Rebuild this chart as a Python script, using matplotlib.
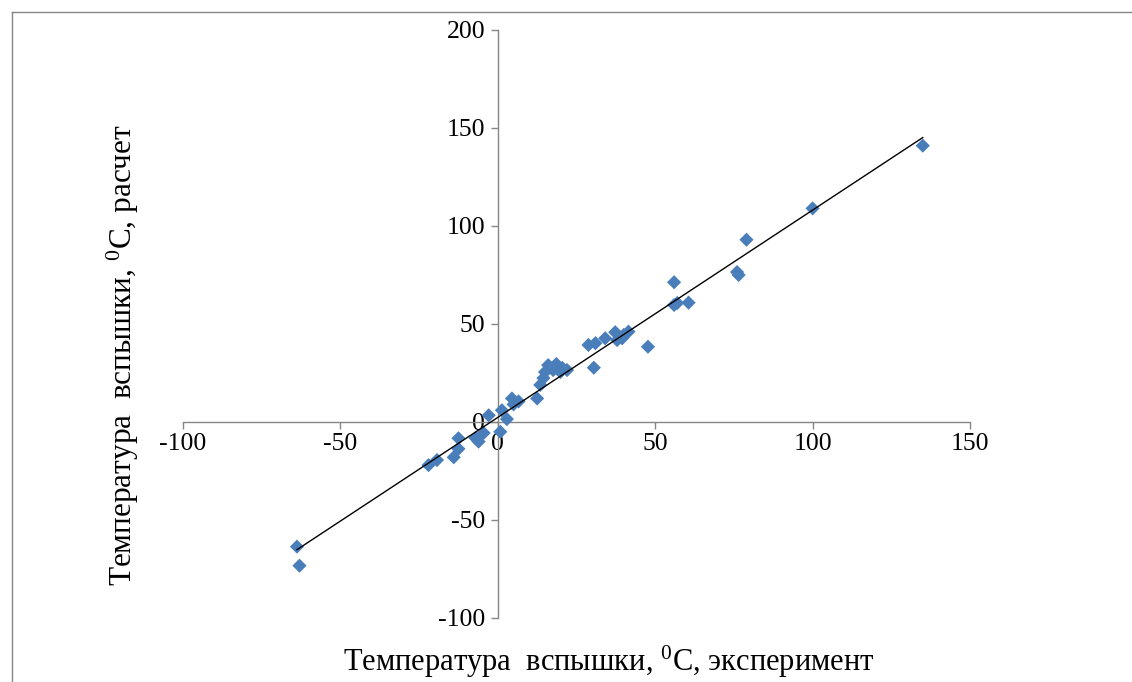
import numpy as np
import matplotlib
matplotlib.use("Agg")
import matplotlib.pyplot as plt
from matplotlib.lines import Line2D

# Data
x_exp = [135, 100, 79, 76, 76.5, 56, 56, 57, 60.6, 47.7, 30.5,
         28.8, 31, 34.1, 37.3, 37.9, 40, 41.5, 39.5,
         16, 18.6, 20.5, 15, 17.6, 19.9, 14.5, 13.5, 12.5, 22,
         4.5, 6.6, 5, 1.3, 2.9, 0.8, -2.9, -4.5, -6.1, -7.1,
         -12.5, -14, -12.5, -19.3, -22, -63.8, -63]
y_calc = [141, 109, 93, 76.5, 75, 71.3, 59.7, 60.7, 60.9, 38.4, 27.7,
          39.3, 40.2, 42.7, 45.8, 41.8, 44.4, 46.1, 42.7,
          29, 29.6, 27.6, 25.5, 26.5, 25.5, 22.4, 18.9, 12, 26.5,
          12, 10.5, 9, 6, 1.5, -5, 3.4, -5.6, -10, -8.2,
          -8.3, -18, -13.7, -19.4, -22, -63.6, -73.3]
x_ticks = [-100, -50, 0, 50, 100, 150]
y_ticks = [-100, -50, 0, 50, 100, 150, 200]
x_label = "Температура  вспышки, $^{0}$C, эксперимент"
y_label = "Температура  вспышки, $^{0}$C, расчет"

plt.rcParams["font.family"] = ["Liberation Serif", "DejaVu Serif"]
plt.rcParams["mathtext.fontset"] = "custom"
plt.rcParams["mathtext.rm"] = "Liberation Serif"
plt.rcParams["mathtext.it"] = "Liberation Serif"

W, H = 1132, 682
fig = plt.figure(figsize=(W / 100, H / 100), dpi=100)
ax = fig.add_axes([183 / W, 1 - 618 / H, 787 / W, 588 / H])
ax.set_xlim(-100, 150)
ax.set_ylim(-100, 200)

gray = "#868686"
ax.spines["left"].set_position(("data", 0))
ax.spines["bottom"].set_position(("data", 0))
ax.spines["right"].set_visible(False)
ax.spines["top"].set_visible(False)
for s in ("left", "bottom"):
    ax.spines[s].set_color(gray)
    ax.spines[s].set_linewidth(1.0)

ax.set_xticks(x_ticks)
ax.set_yticks(y_ticks)
ax.set_xticklabels([str(v) for v in x_ticks])
ax.set_yticklabels([str(v) for v in y_ticks])
ax.tick_params(axis="both", direction="out", length=5, width=1.0,
               color=gray, labelsize=18.5, labelcolor="black", pad=4)
ax.tick_params(axis="x", pad=3)

ax.scatter(x_exp, y_calc, marker="D", s=52, color="#4A7EBB",
           edgecolors="none", zorder=3, clip_on=False)

xa = np.array(x_exp, dtype=float)
ya = np.array(y_calc, dtype=float)
k, b = np.polyfit(xa, ya, 1)
xl = np.array([xa.min(), xa.max()])
ax.plot(xl, k * xl + b, color="black", lw=1.0, zorder=4)

fig.text(609 / W, 1 - 662 / H, x_label, ha="center", va="center",
         fontsize=22)
fig.text(123 / W, 1 - 355 / H, y_label, ha="center", va="center",
         rotation=90, fontsize=22.5)

# outer chart-area border
fig.add_artist(Line2D([12 / W, 1.0], [1 - 12 / H, 1 - 12 / H],
                      transform=fig.transFigure, color=gray, lw=1.0))
fig.add_artist(Line2D([12 / W, 12 / W], [0.0, 1 - 12 / H],
                      transform=fig.transFigure, color=gray, lw=1.0))

fig.savefig("out.png", dpi=100)
